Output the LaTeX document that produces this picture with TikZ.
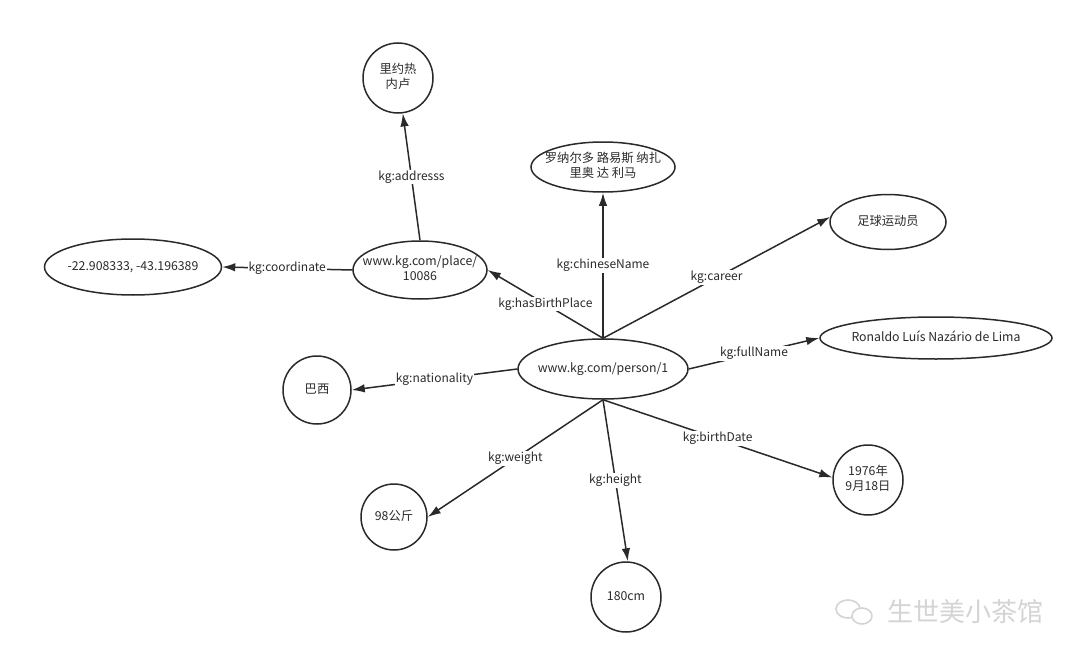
\documentclass[tikz,border=0pt]{standalone}
\usepackage{fontspec}
\setmainfont{Noto Sans CJK SC}
\usetikzlibrary{shapes.geometric,arrows.meta}
\definecolor{ink}{HTML}{2A2A2A}
\definecolor{wm}{HTML}{D4D4D4}
\newcommand{\zw}[1]{\makebox[0pt]{\begin{tabular}{@{}c@{}}#1\end{tabular}}}
\begin{document}
\begin{tikzpicture}[x=1pt,y=-1pt,
  every node/.style={text=ink},
  nd/.style={draw=ink, line width=1.5pt, inner sep=0pt, align=center,
    font=\fontsize{12.3}{14}\selectfont},
  ell/.style={nd, ellipse},
  circ/.style={nd, circle, minimum size=70pt},
  rel/.style={draw=ink, line width=1.5pt, -{Latex[length=13pt,width=8.5pt]}},
  lab/.style={fill=white, inner sep=1pt, font=\fontsize{12}{14}\selectfont},
  wmark/.style={text=wm, font=\fontsize{26}{28}\selectfont}]
\useasboundingbox[fill=white] (0,0) rectangle (1080,661);
\renewcommand{\arraystretch}{1.08}

% nodes
\node[circ] (rio) at (398,78) {\zw{里约热\\内卢}};
\node[ell, minimum width=144pt, minimum height=50pt] (cn) at (603,167) {\zw{罗纳尔多 路易斯 纳扎\\里奥 达 利马}};
\node[ell, minimum width=116pt, minimum height=55pt] (car) at (888,222) {\zw{足球运动员}};
\node[ell, minimum width=177pt, minimum height=56pt] (co) at (133,267) {\zw{-22.908333, -43.196389}};
\node[ell, minimum width=134pt, minimum height=58pt] (pl) at (420,270) {\zw{www.kg.com/place/\\10086}};
\node[ell, minimum width=170pt, minimum height=60pt] (p) at (603,369) {\zw{www.kg.com/person/1}};
\node[ell, minimum width=232pt, minimum height=42pt] (fn) at (936,338) {\zw{Ronaldo Luís Nazário de Lima}};
\node[circ, minimum size=68pt] (br) at (317,390) {\zw{巴西}};
\node[circ, minimum size=66pt] (kg) at (394,517) {\zw{98公斤}};
\node[circ] (h) at (626,597) {\zw{180cm}};
\node[circ] (bd) at (868,480) {\zw{1976年\\9月18日}};

% connectors
\draw[rel] (p.north) -- node[lab]{kg:chineseName} (cn);
\draw[rel] (p.north) -- node[lab]{kg:hasBirthPlace} (pl.east);
\draw[rel] (p.north) -- node[lab]{kg:career} (car.175);
\draw[rel] (pl.north) -- node[lab]{kg:addresss} (rio);
\draw[rel] (pl.west) -- node[lab]{kg:coordinate} (co.east);
\draw[rel] (p.west) -- node[lab]{kg:nationality} (br.east);
\draw[rel] (p.east) -- node[lab]{kg:fullName} (fn.west);
\draw[rel] (p.south) -- node[lab]{kg:weight} (kg.east);
\draw[rel] (p.south) -- node[lab]{kg:height} (h.87);
\draw[rel] (p.south) -- node[lab]{kg:birthDate} (bd.176);

% watermark
\node[wmark, anchor=west] (wmt) at (884,612) {生世美小茶馆};
\draw[wm, line width=1.6pt] (848,609) ellipse (12pt and 9pt);
\draw[wm, line width=1.6pt, fill=white] (862,616) ellipse (10pt and 8pt);
\end{tikzpicture}
\end{document}
